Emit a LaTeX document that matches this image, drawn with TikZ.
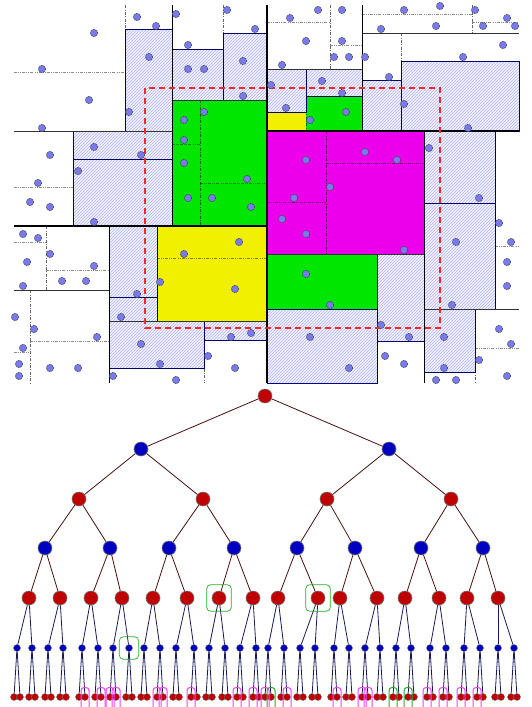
\documentclass[tikz,border=0pt]{standalone}
\usetikzlibrary{positioning}
\usetikzlibrary{patterns}
\usetikzlibrary{fit}
\usetikzlibrary{calc}

\definecolor{ptblue}{RGB}{122,122,240}
\definecolor{nodered}{RGB}{192,0,0}
\definecolor{nodeblue}{RGB}{0,0,192}
\definecolor{cellgreen}{RGB}{0,230,0}
\definecolor{cellyellow}{RGB}{240,240,0}
\definecolor{cellmagenta}{RGB}{236,0,236}
\definecolor{markmagenta}{RGB}{255,60,255}
\definecolor{markgreen}{RGB}{40,170,40}
\definecolor{edgebrown}{RGB}{70,15,15}
\definecolor{edgenavy}{RGB}{25,25,85}

\tikzset{
	hatchcell/.style={draw=blue!55!black, line width=0.5pt, preaction={fill=blue!5}, pattern=north east lines, pattern color=blue!30},
	splitzero/.style={black, line width=2pt},
	splitone/.style={black, line width=1.1pt},
	splittwo/.style={black, line width=0.9pt},
	splitthree/.style={black!80, line width=0.8pt},
	splitfour/.style={black, opacity=0.6, line width=0.6pt, dash pattern=on 3pt off 1.5pt on 0.8pt off 1.5pt},
	splitfive/.style={black, opacity=0.45, line width=0.6pt, dash pattern=on 3pt off 1.2pt on 0.8pt off 1.2pt on 0.8pt off 1.2pt},
	query/.style={red!85!white, line width=1.2pt, dash pattern=on 6pt off 4pt},
	datapt/.style={fill=ptblue, draw=black!75, line width=0.5pt, dash pattern=on 1.2pt off 0.6pt},
	bignode/.style={circle, draw=black!55, line width=0.6pt, minimum size=14pt, inner sep=0pt},
	smallnode/.style={circle, draw=black!55, line width=0.4pt, minimum size=7pt, inner sep=0pt},
	leafmark/.style={line width=1pt, rounded corners=3pt},
	fitbox/.style={draw=markgreen, line width=0.7pt, rounded corners=4pt},
}

\begin{document}
\begin{tikzpicture}[x=1pt,y=-1pt]
	\useasboundingbox (0,0) rectangle (531,707);

	% Fill the cells inside the range
	\foreach \a/\b/\c/\d/\col in {172/100/267/226/cellgreen, 306/96/362/131/cellgreen, 267/254/377/309/cellgreen,
		157/226/267/321/cellyellow, 267/112/306/131/cellyellow, 267/131/424/254/cellmagenta}
		\fill[\col] (\a,\b) rectangle (\c,\d);

	% Hatch the cells cut by the range
	\foreach \a/\b/\c/\d in {125/29/172/131, 73/131/172/159, 73/159/172/226, 172/49/223/100, 223/33/267/100,
		109/226/157/297, 109/297/157/321, 109/321/204/368, 204/321/267/340, 267/69/306/112, 306/69/362/96,
		362/80/401/131, 401/61/519/131, 267/309/377/383, 377/254/424/341, 424/131/495/203, 424/203/495/309,
		424/309/475/372}
		\draw[hatchcell] (\a,\b) rectangle (\c,\d);

	% Draw the splitting lines, deepest level first
	\foreach \a/\c/\y in {14/125/72, 125/172/29, 14/73/187, 73/172/159, 172/223/49, 223/267/33, 172/200/144,
		200/267/183, 14/46/242, 46/109/270, 14/30/352, 30/109/341, 109/157/297, 157/267/258, 109/204/368,
		204/267/340, 267/330/22, 330/362/45, 267/306/112, 306/362/96, 362/472/14, 472/519/22, 362/401/80,
		401/519/61, 267/326/202, 326/424/163, 267/377/309, 377/424/341, 424/495/203, 495/519/246,
		424/475/372, 475/519/348}
		\draw[splitfive] (\a,\y) -- (\c,\y);
	\foreach \x/\b/\d in {125/5/131, 73/131/226, 223/5/100, 200/100/226, 46/226/290, 30/290/383, 157/226/321,
		204/321/383, 330/5/69, 306/69/131, 472/5/33, 401/33/131, 326/131/254, 377/254/383, 495/131/309, 475/309/383}
		\draw[splitfour] (\x,\b) -- (\x,\d);
	\foreach \a/\c/\y in {14/172/131, 172/267/100, 14/109/290, 109/267/321, 267/362/69, 362/519/33, 267/424/254, 424/519/309}
		\draw[splitthree] (\a,\y) -- (\c,\y);
	\foreach \x/\b/\d in {172/5/226, 109/226/383, 362/5/131, 424/131/383}
		\draw[splittwo] (\x,\b) -- (\x,\d);
	\draw[splitone] (14,226) -- (267,226);
	\draw[splitone] (267,131) -- (519,131);
	\draw[splitzero] (267,5) -- (267,383);

	% The range
	\draw[query] (145,88) rectangle (440,328);

	% The points
	\foreach \x/\y in {137/17, 156/26, 176/14, 227/10, 255/29, 94/33, 42/69, 149/57, 188/45, 188/69, 204/69,
		243/61, 243/96, 89/100, 129/112, 204/112, 184/120, 42/128, 184/140, 94/147, 141/155, 50/155, 184/163,
		78/171, 38/183, 247/179, 188/198, 212/198, 30/202, 50/207, 94/222, 251/207, 23/234, 38/238, 50/254,
		27/262, 94/266, 62/281, 86/281, 23/286, 184/254, 239/242, 160/282, 235/289, 137/294, 121/317, 15/317,
		34/329, 97/337, 231/337, 251/333, 23/348, 141/344, 19/364, 160/364, 208/356, 50/368, 78/368, 235/368,
		19/376, 113/376, 176/380, 290/18, 318/10, 342/10, 404/10, 440/6, 475/10, 507/18, 483/26, 515/26,
		436/26, 381/29, 306/41, 342/41, 334/57, 349/57, 365/57, 503/45, 463/57, 282/65, 389/77, 322/81,
		271/85, 342/93, 404/104, 286/108, 310/120, 346/112, 468/128, 429/148, 365/152, 397/160, 306/160,
		330/187, 294/198, 479/198, 282/219, 306/234, 404/250, 499/223, 456/242, 511/242, 507/262, 507/286,
		306/274, 330/305, 452/305, 381/325, 310/337, 409/337, 444/337, 499/329, 511/344, 479/360, 385/356,
		404/364, 349/368, 444/368, 507/376, 436/380, 456/380}
		\filldraw[datapt] (\x,\y) circle[radius=3.7pt];

	% Tree nodes, level by level
	\node[bignode, fill=nodered] (t0-1) at (265,396) {};
	\foreach \x [count=\i] in {141,389}
		\node[bignode, fill=nodeblue] (t1-\i) at (\x,449) {};
	\foreach \x [count=\i] in {79,203,327,451}
		\node[bignode, fill=nodered] (t2-\i) at (\x,499) {};
	\foreach \x [count=\i] in {45,110,169,234,297,355,421,483}
		\node[bignode, fill=nodeblue] (t3-\i) at (\x,548) {};
	\foreach \x [count=\i] in {29,60,91,122,153,187,219,253,278,318,340,377,405,439,467,498}
		\node[bignode, fill=nodered] (t4-\i) at (\x,598) {};
	\foreach \x [count=\i] in {17,32,48,63,82,98,113,129,144,160,176,194,209,225,240,256,
		268,284,300,315,334,349,365,380,396,411,430,446,464,480,498,514} {
		\node[smallnode, fill=nodeblue] (t5-\i) at (\x,648) {};
		\pgfmathtruncatemacro\lf{2*\i-1}
		\pgfmathtruncatemacro\rt{2*\i}
		\node[smallnode, fill=nodered] (t6-\lf) at (\x-3,697) {};
		\node[smallnode, fill=nodered] (t6-\rt) at (\x+3,697) {};
	}

	% Tree edges
	\foreach \lv/\up/\n/\col in {1/0/2/edgebrown, 2/1/4/edgebrown, 3/2/8/edgebrown, 4/3/16/edgebrown,
		5/4/32/edgenavy, 6/5/64/edgenavy}
		\foreach \i in {1,...,\n} {
			\pgfmathtruncatemacro\p{(\i+1)/2}
			\draw[\col, line width=0.8pt] (t\up-\p) -- (t\lv-\i);
		}

	% Marked leaves
	\foreach \k in {10,12,13,14,19,20,23,29,31,33,36,42,45,46,53,55,57,59}
		\draw[leafmark, markmagenta] ([xshift=-4pt,yshift=9.5pt]t6-\k.center) rectangle ([xshift=4pt,yshift=-20pt]t6-\k.center);
	\foreach \k in {34,49,51}
		\draw[leafmark, markgreen] ([xshift=-4pt,yshift=9.5pt]t6-\k.center) rectangle ([xshift=4pt,yshift=-20pt]t6-\k.center);

	% Marked inner nodes
	\node[fitbox, fit=(t4-7), inner xsep=5pt, inner ysep=6pt] (mark-a) {};
	\node[fitbox, fit=(t4-10), inner xsep=5pt, inner ysep=6pt] (mark-b) {};
	\node[fitbox, fit=(t5-8), inner xsep=6pt, inner ysep=7.5pt] (mark-c) {};
\end{tikzpicture}
\end{document}
